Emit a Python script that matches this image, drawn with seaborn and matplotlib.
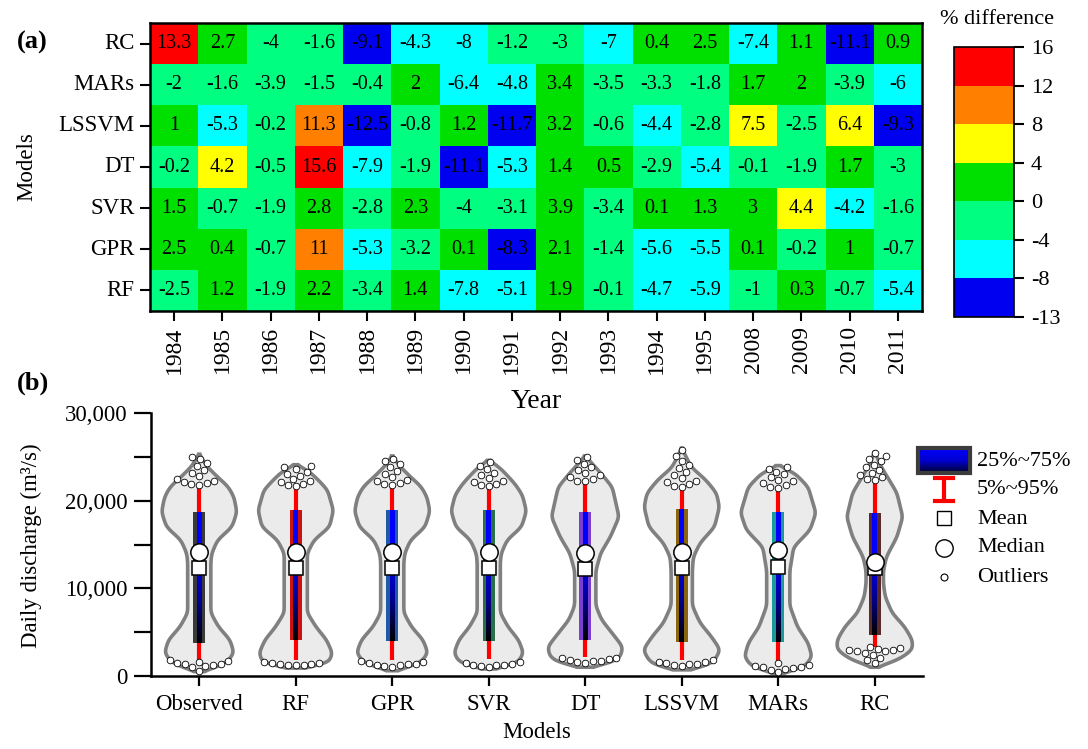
import numpy as np
import pandas as pd
import matplotlib
matplotlib.use('Agg')
import matplotlib.pyplot as plt
import seaborn as sns
from matplotlib.colors import ListedColormap, BoundaryNorm, LinearSegmentedColormap
from matplotlib.patches import Rectangle
from matplotlib.ticker import MultipleLocator, FuncFormatter

# 字体设置（Times 风格）
plt.rcParams['font.family'] = ['Liberation Serif', 'DejaVu Serif']
plt.rcParams['axes.unicode_minus'] = False

# ---------------- (a) 年度误差热图数据 ----------------
years = ['1984', '1985', '1986', '1987', '1988', '1989', '1990', '1991',
         '1992', '1993', '1994', '1995', '2008', '2009', '2010', '2011']
heat_models = ['RC', 'MARs', 'LSSVM', 'DT', 'SVR', 'GPR', 'RF']
diff_rc = [13.3, 2.7, -4, -1.6, -9.1, -4.3, -8, -1.2, -3, -7, 0.4, 2.5, -7.4, 1.1, -11.1, 0.9]
diff_mars = [-2, -1.6, -3.9, -1.5, -0.4, 2, -6.4, -4.8, 3.4, -3.5, -3.3, -1.8, 1.7, 2, -3.9, -6]
diff_lssvm = [1, -5.3, -0.2, 11.3, -12.5, -0.8, 1.2, -11.7, 3.2, -0.6, -4.4, -2.8, 7.5, -2.5, 6.4, -9.3]
diff_dt = [-0.2, 4.2, -0.5, 15.6, -7.9, -1.9, -11.1, -5.3, 1.4, 0.5, -2.9, -5.4, -0.1, -1.9, 1.7, -3]
diff_svr = [1.5, -0.7, -1.9, 2.8, -2.8, 2.3, -4, -3.1, 3.9, -3.4, 0.1, 1.3, 3, 4.4, -4.2, -1.6]
diff_gpr = [2.5, 0.4, -0.7, 11, -5.3, -3.2, 0.1, -8.3, 2.1, -1.4, -5.6, -5.5, 0.1, -0.2, 1, -0.7]
diff_rf = [-2.5, 1.2, -1.9, 2.2, -3.4, 1.4, -7.8, -5.1, 1.9, -0.1, -4.7, -5.9, -1, 0.3, -0.7, -5.4]
levels = [-13, -8, -4, 0, 4, 8, 12, 16]
level_colors = ['#0000f0', '#00ffff', '#00ff80', '#00e000', '#ffff00', '#ff8000', '#ff0000']

# ---------------- (b) 日流量小提琴图数据 ----------------
models = ['Observed', 'RF', 'GPR', 'SVR', 'DT', 'LSSVM', 'MARs', 'RC']
box_colors = ['#3a3a3a', '#cc1111', '#1f5aa8', '#2a6e4a', '#7a3fd0', '#8a6510', '#1a9a9a', '#5a2a2a']
q05 = [1800, 1800, 1800, 1900, 2200, 1800, 1600, 3300]
q25 = [3800, 4100, 4000, 4000, 4100, 3900, 3900, 4700]
q50 = [14200, 14200, 14200, 14200, 14000, 14100, 14400, 13000]
q_mean = [12300, 12300, 12300, 12300, 12200, 12300, 12400, 12300]
q75 = [18700, 18900, 18900, 18900, 18700, 19000, 18700, 18600]
q95 = [21500, 21500, 21600, 21600, 22000, 21600, 21500, 22400]

# 小提琴轮廓：流量水平 (千 m3/s) 与半宽
violin_levels = {
    'Observed': [0.5, 0.7, 1.5, 2.6, 4.1, 5.6, 7.2, 10, 13, 14, 15.5, 17, 18.7, 20.4, 21.6, 22.7, 23.9, 25.3],
    'RF': [0.9, 1.1, 1.5, 2.6, 4.1, 5.6, 7.2, 10, 13, 14, 15.5, 17, 18.9, 21.2, 22.4, 23.5, 24.1],
    'GPR': [0.6, 0.8, 1.5, 2.6, 4.1, 5.6, 7.2, 10, 13, 14, 15.5, 17, 18.8, 20.4, 21.6, 22.7, 23.9, 25.1],
    'SVR': [0.8, 1.0, 1.5, 2.6, 4.1, 5.6, 7.2, 10, 13, 14, 15.5, 17, 18.8, 20.6, 21.8, 22.9, 23.9, 24.6],
    'DT': [1.0, 1.25, 2.05, 3.3, 4.45, 6.4, 8, 12, 14, 15.86, 18.14, 21.56, 23.15, 25.1],
    'LSSVM': [0.7, 0.9, 1.6, 2.97, 4.45, 6.05, 8, 12, 13.57, 15.17, 17.0, 19.28, 20.87, 22.36, 23.8, 26.0],
    'MARs': [0.3, 0.45, 1.03, 2.17, 3.76, 5.6, 8, 12, 14.7, 16.65, 18.6, 21.56, 23.15, 24.0],
    'RC': [1.0, 1.14, 1.82, 2.97, 4.1, 5.6, 7.2, 9.0, 10.5, 12, 13.57, 15.86, 18.14, 20.87, 22.36, 23.8, 25.55],
}
violin_widths = {
    'Observed': [0, .11, .28, .36, .32, .20, .12, .12, .12, .13, .19, .34, .39, .36, .30, .19, .08, 0],
    'RF': [0, .22, .34, .38, .32, .21, .12, .12, .12, .12, .19, .35, .39, .33, .23, .12, 0],
    'GPR': [0, .12, .29, .37, .32, .20, .12, .12, .12, .13, .19, .34, .39, .36, .30, .19, .08, 0],
    'SVR': [0, .16, .30, .36, .31, .20, .12, .12, .12, .13, .19, .34, .39, .35, .28, .19, .10, 0],
    'DT': [0, .21, .36, .39, .31, .17, .11, .11, .16, .26, .35, .28, .16, 0],
    'LSSVM': [0, .21, .33, .40, .31, .19, .11, .11, .12, .19, .34, .39, .36, .25, .10, 0],
    'MARs': [0, .10, .27, .35, .31, .20, .12, .12, .16, .33, .39, .31, .17, 0],
    'RC': [0, .06, .24, .39, .39, .31, .18, .11, .09, .09, .12, .23, .29, .23, .15, .07, 0],
}

# 离群点
outliers_top = {
    'Observed': [21800, 21900, 22000, 22100, 22300, 22500, 22800, 23100, 23500, 23900, 24300, 24700, 25000],
    'RF': [21700, 21800, 21900, 22100, 22300, 22500, 22800, 23000, 23300, 23600, 23800, 24000],
    'GPR': [21800, 21900, 22000, 22200, 22400, 22700, 23000, 23400, 23800, 24200, 24500, 24800],
    'SVR': [21700, 21800, 21900, 22100, 22300, 22600, 22900, 23200, 23600, 24000, 24400],
    'DT': [22200, 22300, 22500, 22700, 22900, 23200, 23500, 23800, 24200, 24600, 25000],
    'LSSVM': [21600, 21700, 21900, 22100, 22300, 22600, 22900, 23300, 23700, 24100, 24500, 25100, 25800],
    'MARs': [21500, 21600, 21800, 22000, 22200, 22400, 22700, 23000, 23300, 23600, 23800],
    'RC': [22400, 22500, 22700, 22900, 23200, 23500, 23800, 24100, 24500, 24800, 25100, 25400],
}
outliers_bottom = {
    'Observed': [600, 1000, 1150, 1250, 1350, 1400, 1500, 1600, 1700, 1800],
    'RF': [1200, 1250, 1300, 1350, 1400, 1450, 1500, 1550],
    'GPR': [1000, 1100, 1200, 1300, 1350, 1400, 1500, 1600, 1700],
    'SVR': [1000, 1100, 1200, 1250, 1300, 1400, 1500, 1600],
    'DT': [1500, 1600, 1700, 1750, 1800, 1900, 2000, 2100],
    'LSSVM': [1150, 1250, 1350, 1400, 1450, 1550, 1650, 1800],
    'MARs': [500, 700, 850, 950, 1000, 1050, 1150, 1300, 1450],
    'RC': [1500, 1800, 2100, 2400, 2600, 2800, 2900, 3000, 3000, 3100, 3200, 3300],
}

W, H = 1088, 749
fig = plt.figure(figsize=(W / 100, H / 100), dpi=100)


def px_rect(x0, y0, x1, y1):
    """像素坐标 -> 图形坐标"""
    return [x0 / W, 1 - y1 / H, (x1 - x0) / W, (y1 - y0) / H]


# ================= (a) 热图 =================
ax_a = fig.add_axes(px_rect(150, 23, 922, 311))
cax = fig.add_axes(px_rect(954, 47, 1014, 317))

diff_df = pd.DataFrame([diff_rc, diff_mars, diff_lssvm, diff_dt, diff_svr, diff_gpr, diff_rf],
                       index=heat_models, columns=years)
cmap = ListedColormap(level_colors)
norm = BoundaryNorm(levels, cmap.N)
sns.heatmap(diff_df, ax=ax_a, cbar_ax=cax, cmap=cmap, norm=norm, annot=True, fmt='g',
            annot_kws={'fontsize': 14.5, 'color': 'black'}, cbar_kws={'ticks': levels})

ax_a.set_yticklabels(heat_models, rotation=0, fontsize=16.5)
ax_a.set_xticklabels(years, rotation=90, fontsize=17)
ax_a.tick_params(length=7, width=1.5, pad=4)
for sp in ax_a.spines.values():
    sp.set_visible(True)
    sp.set_linewidth(1.8)
    sp.set_color('black')
ax_a.set_xlabel('Year', fontsize=20)
ax_a.xaxis.set_label_coords(0.5, -0.27)
ax_a.xaxis.label.set_va('top')
ax_a.set_ylabel('Models', fontsize=16.5)
ax_a.yaxis.set_label_coords(-0.146, 0.5)

cb = ax_a.collections[0].colorbar
cb.outline.set_linewidth(1.2)
cax.tick_params(labelsize=16, length=7, width=1.5, pad=5)
fig.text(997 / W, 1 - 20 / H, '% difference', ha='center', va='center', fontsize=16)

fig.text(17 / W, 1 - 42 / H, '(a)', ha='left', va='center', fontsize=19, fontweight='bold')
fig.text(17 / W, 1 - 383 / H, '(b)', ha='left', va='center', fontsize=19, fontweight='bold')

# ================= (b) 小提琴图 =================
ax_b = fig.add_axes(px_rect(151, 413, 923, 676))

inner_cmap = LinearSegmentedColormap.from_list('inner', ['#000000', '#00009a', '#0000ff', '#0000ff'])
grad = np.linspace(0, 1, 256).reshape(-1, 1)
kernel = np.hanning(31)
kernel /= kernel.sum()

for i, m in enumerate(models):
    lv = np.asarray(violin_levels[m]) * 1000
    yy = np.linspace(lv[0], lv[-1], 400)
    ww = np.interp(yy, lv, violin_widths[m])
    ww = np.convolve(np.pad(ww, 15, mode='edge'), kernel, mode='valid')
    xs = np.concatenate([i - ww, (i + ww)[::-1]])
    ys = np.concatenate([yy, yy[::-1]])
    ax_b.fill(xs, ys, facecolor='#ebebeb', edgecolor='#808080', linewidth=2.6, zorder=1)

    ax_b.vlines(i, q05[i], q95[i], color='red', linewidth=3, zorder=2)
    ax_b.add_patch(Rectangle((i - 0.06, q25[i]), 0.12, q75[i] - q25[i],
                             facecolor=box_colors[i], edgecolor='none', zorder=3))
    ax_b.imshow(grad, extent=[i - 0.025, i + 0.025, q25[i], q75[i]], origin='lower',
                aspect='auto', cmap=inner_cmap, zorder=4)
    ax_b.plot(i, q_mean[i], 's', ms=10, mfc='white', mec='black', mew=1.1, zorder=7)
    ax_b.plot(i, q50[i], 'o', ms=12.5, mfc='white', mec='black', mew=1.1, zorder=8)

ax_b.set_xlim(-0.5, 7.5)
ax_b.set_ylim(0, 30000)

out_rows = []
for i, m in enumerate(models):
    for v in outliers_top[m] + outliers_bottom[m]:
        out_rows.append((i, v))
df_out = pd.DataFrame(out_rows, columns=['pos', 'discharge'])
sns.swarmplot(data=df_out, x='pos', y='discharge', native_scale=True, orient='x',
              color='white', edgecolor='black', linewidth=0.6, size=4.8,
              ax=ax_b, zorder=6, warn_thresh=1)

ax_b.set_xlim(-0.5, 7.5)
ax_b.set_ylim(0, 30000)
ax_b.set_xticks(range(len(models)))
ax_b.set_xticklabels(models, fontsize=16.5)
ax_b.yaxis.set_major_locator(MultipleLocator(5000))
ax_b.yaxis.set_major_formatter(FuncFormatter(lambda v, p: f'{int(v):,}' if v % 10000 == 0 else ''))
ax_b.tick_params(axis='y', labelsize=16.5, length=12, width=1.6, pad=5)
ax_b.tick_params(axis='x', length=7, width=1.6, pad=6)
for s in ['top', 'right']:
    ax_b.spines[s].set_visible(False)
for s in ['left', 'bottom']:
    ax_b.spines[s].set_linewidth(1.8)
ax_b.set_xlabel('Models', fontsize=16.5)
ax_b.xaxis.set_label_coords(0.5, -0.175)
ax_b.xaxis.label.set_va('top')
ax_b.set_ylabel('Daily discharge (m³/s)', fontsize=16.5)
ax_b.yaxis.set_label_coords(-0.141, 0.494)

# ================= 图例（像素坐标） =================
lax = fig.add_axes([0, 0, 1, 1])
lax.set_axis_off()
leg_cmap = LinearSegmentedColormap.from_list('leg', ['#000028', '#0000d0', '#0000ff'])
lax.imshow(grad, extent=[918, 970, 473, 448], origin='lower', aspect='auto', cmap=leg_cmap, zorder=2)
lax.add_patch(Rectangle((918, 448), 52, 25, facecolor='none', edgecolor='#3c3c3c', linewidth=3, zorder=3))
lax.plot([944, 944], [478, 501], color='red', linewidth=3, solid_capstyle='butt')
lax.plot([935, 953], [478, 478], color='red', linewidth=3)
lax.plot([935, 953], [501, 501], color='red', linewidth=3)
lax.plot(944, 518, 's', ms=10, mfc='white', mec='black', mew=1)
lax.plot(944, 548, 'o', ms=12.5, mfc='white', mec='black', mew=1)
lax.plot(944, 577, 'o', ms=5, mfc='white', mec='black', mew=0.8)
for txt, ty in [('25%~75%', 462), ('5%~95%', 490), ('Mean', 519), ('Median', 548), ('Outliers', 577)]:
    lax.text(977, ty, txt, ha='left', va='center', fontsize=16)
lax.set_xlim(0, W)
lax.set_ylim(H, 0)

fig.savefig('out.png', dpi=100)
